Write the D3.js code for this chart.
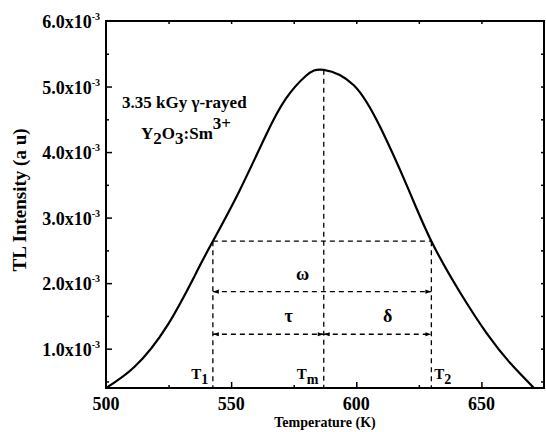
<!DOCTYPE html>
<html>
<head>
<meta charset="utf-8">
<title>TL glow curve</title>
<script src="https://cdn.jsdelivr.net/npm/d3@7"></script>
<style>
  body { margin: 0; background: #fff; }
  text { font-family: "Liberation Serif", "Times New Roman", serif; font-weight: bold; fill: #000; }
</style>
</head>
<body>
<script>
// glow curve (intensity in units of 1e-3)
var temps = [500, 511.3, 524.6, 536.6, 542.7, 553.2, 563.8, 571.8, 579.8, 587, 599, 609.7, 620.3, 630, 641.6, 652.2, 661.5, 671];
var inten = [0.40, 0.72, 1.36, 2.20, 2.64, 3.40, 4.25, 4.81, 5.16, 5.255, 5.02, 4.37, 3.48, 2.64, 1.85, 1.23, 0.78, 0.40];

var xTicks = [500, 550, 600, 650];
var xMinor = [525, 575, 625];
var yTicks = [1, 2, 3, 4, 5, 6];
var yMinor = [0.5, 1.5, 2.5, 3.5, 4.5, 5.5];

// characteristic temperatures
var T1 = 542.7, Tm = 587, T2 = 630;
var halfMax = 2.64, Imax = 5.255;
var wLevel = 1.87, tdLevel = 1.22;

var margin = {top: 21, right: 2, bottom: 44, left: 106},
    W = 546, H = 432,
    width = W - margin.left - margin.right,
    height = H - margin.top - margin.bottom;

var x = d3.scaleLinear().domain([500, 675]).range([0, width]);
var y = d3.scaleLinear().domain([0.4, 6.0]).range([height, 0]);

var svg = d3.select("body").append("svg")
    .attr("width", W).attr("height", H);

var defs = svg.append("defs");
defs.append("clipPath").attr("id", "clip")
  .append("rect").attr("width", width).attr("height", height);
defs.append("marker").attr("id", "arr")
    .attr("viewBox", "0 0 10 10").attr("refX", 10).attr("refY", 5)
    .attr("markerWidth", 8).attr("markerHeight", 6)
    .attr("markerUnits", "userSpaceOnUse")
    .attr("orient", "auto-start-reverse")
  .append("path").attr("d", "M0,1.5L10,5L0,8.5Z").attr("fill", "#000");

var g = svg.append("g")
    .attr("transform", "translate(" + margin.left + "," + margin.top + ")");

// ticks (inward, all four sides)
function ticks(axis, vals, size) {
  return axis.tickValues(vals).tickSizeInner(-size).tickSizeOuter(0).tickFormat("");
}
function drawAxis(axis, tr) {
  var a = g.append("g").attr("transform", tr).call(axis);
  a.select(".domain").remove();
  a.selectAll("line").attr("stroke", "#000").attr("stroke-width", 1.5);
}
drawAxis(ticks(d3.axisBottom(x), xTicks.slice(1), 6), "translate(0," + height + ")");
drawAxis(ticks(d3.axisBottom(x), xMinor, 3), "translate(0," + height + ")");
drawAxis(ticks(d3.axisTop(x), xTicks.slice(1).concat(xMinor), 3), "translate(0,0)");
drawAxis(ticks(d3.axisLeft(y), yTicks.slice(0, -1), 6), "translate(0,0)");
drawAxis(ticks(d3.axisLeft(y), yMinor, 3), "translate(0,0)");
drawAxis(ticks(d3.axisRight(y), yMinor.concat(yTicks.slice(0, -1)), 3), "translate(" + width + ",0)");

// frame
g.append("rect").attr("width", width).attr("height", height)
  .attr("fill", "none").attr("stroke", "#000").attr("stroke-width", 2);

// tick labels
g.selectAll(".xl").data(xTicks).enter().append("text")
  .attr("x", function(d) { return x(d); })
  .attr("y", height + 22)
  .attr("text-anchor", "middle")
  .style("font-size", "18px")
  .text(function(d) { return d; });

var yl = g.selectAll(".yl").data(yTicks).enter().append("text")
  .attr("x", -6)
  .attr("y", function(d) { return y(d) + 7; })
  .attr("text-anchor", "end")
  .style("font-size", "18px");
yl.append("tspan").text(function(d) { return d.toFixed(1) + "x10"; });
yl.append("tspan").attr("dy", -8).style("font-size", "10px").text("-3");

// axis titles
svg.append("text")
  .attr("x", margin.left + x(587.5)).attr("y", 427)
  .attr("text-anchor", "middle").style("font-size", "14px")
  .text("Temperature (K)");
svg.append("text")
  .attr("transform", "translate(26," + 200 + ") rotate(-90)")
  .attr("text-anchor", "middle").style("font-size", "19px")
  .text("TL Intensity (a u)");

// guide lines
var dash = "5,4";
function dl(x1, y1, x2, y2) {
  return g.append("line")
    .attr("x1", x(x1)).attr("y1", y(y1)).attr("x2", x(x2)).attr("y2", y(y2))
    .attr("stroke", "#000").attr("stroke-width", 1.3).attr("stroke-dasharray", dash);
}
dl(Tm, Imax, Tm, 0.4);
dl(T1, halfMax, T1, 0.4);
dl(T2, halfMax, T2, 0.4);
dl(T1, halfMax, T2, halfMax);
dl(T1, wLevel, T2, wLevel).attr("marker-start", "url(#arr)").attr("marker-end", "url(#arr)");
dl(T1, tdLevel, Tm, tdLevel).attr("marker-start", "url(#arr)").attr("marker-end", "url(#arr)");
dl(Tm, tdLevel, T2, tdLevel).attr("marker-start", "url(#arr)").attr("marker-end", "url(#arr)");

// curve
var line = d3.line()
  .x(function(d, i) { return x(temps[i]); })
  .y(function(d) { return y(d); })
  .curve(d3.curveNatural);
g.append("path").datum(inten)
  .attr("clip-path", "url(#clip)")
  .attr("fill", "none").attr("stroke", "#000").attr("stroke-width", 2.2)
  .attr("d", line);

// greek labels
function lab(t, v, s, size) {
  return g.append("text").attr("x", x(t)).attr("y", y(v))
    .attr("text-anchor", "middle").style("font-size", (size || 18) + "px").text(s);
}
lab(578.5, 2.05, "\u03c9", 18);
lab(573, 1.40, "\u03c4", 18);
lab(612.5, 1.40, "\u03b4", 18);

// T labels
function tlab(t, v, sub) {
  var tx = g.append("text").attr("x", x(t)).attr("y", y(v))
    .attr("text-anchor", "middle").style("font-size", "15px");
  tx.append("tspan").text("T");
  tx.append("tspan").attr("dy", 5).style("font-size", "14px").text(sub);
}
tlab(537.5, 0.54, "1");
tlab(580.5, 0.54, "m");
tlab(634.5, 0.54, "2");

// sample annotation
g.append("text").attr("x", 16).attr("y", 86.5)
  .style("font-size", "17px").text("3.35 kGy \u03b3-rayed");
var s = g.append("text").attr("x", 35).attr("y", 118)
  .style("font-size", "17px");
s.append("tspan").text("Y");
s.append("tspan").attr("dy", 5).text("2");
s.append("tspan").attr("dy", -5).text("O");
s.append("tspan").attr("dy", 5).text("3");
s.append("tspan").attr("dy", -5).text(":Sm");
s.append("tspan").attr("dy", -10).text("3+");
</script>
</body>
</html>
